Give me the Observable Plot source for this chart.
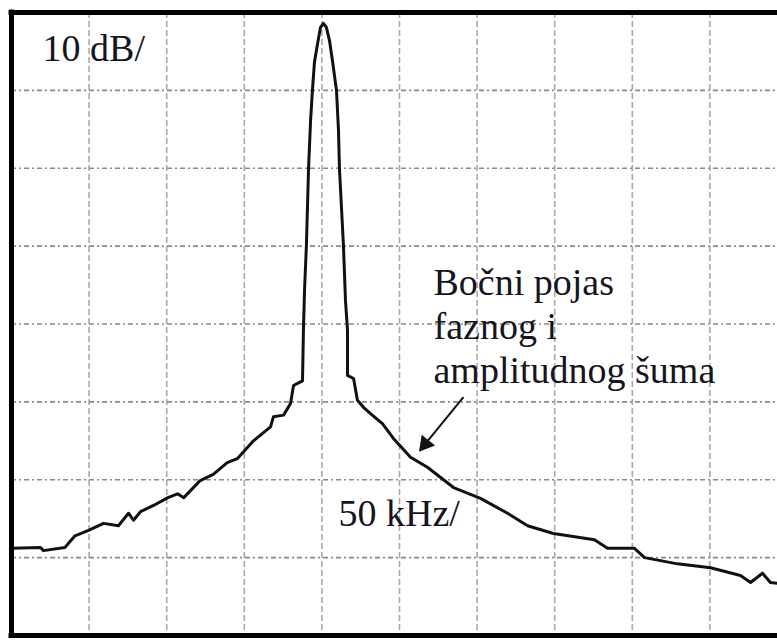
<!DOCTYPE html>
<html><head><meta charset="utf-8">
<script src="https://cdn.jsdelivr.net/npm/d3@7"></script>
<script src="https://cdn.jsdelivr.net/npm/@observablehq/plot@0.6"></script>
<style>html,body{margin:0;padding:0;background:#fff;overflow:hidden}</style>
</head><body><div id="chart"></div>
<script>
// Frequency offset from the carrier (kHz) and level (dB re top of screen)
const freqKHz = [-200, -181.3, -179.4, -165.6, -159.1, -150.4, -140.7, -131.1, -124.6, -121.4,
  -116.9, -108.5, -99.2, -93.0, -89.0, -78.4, -70.0, -61.0, -54.5, -44.1,
  -33.1, -31.2, -24.7, -20.2, -18.3, -12.5, -11.9, -11.2, -10.0, -8.6,
  -7.3, -6.1, -4.8, -2.8, -0.9, 1.0, 2.9, 4.9, 6.8, 9.4,
  10.7, 11.3, 13.9, 15.2, 16.5, 16.5, 20.4, 22.9, 26.8, 31.3,
  39.0, 46.1, 57.1, 68.0, 84.8, 102.2, 119.6, 132.5, 149.2, 175.6,
  184.0, 201.4, 207.9, 229.1, 250.4, 269.7, 276.2, 283.9, 289.0, 293.5];
const levelDb = [-68.8, -68.7, -69.1, -68.7, -67.2, -66.5, -65.6, -65.9, -64.3, -65.2,
  -64.1, -63.3, -62.3, -61.8, -62.3, -60.1, -59.3, -57.8, -57.3, -55.0,
  -53.2, -51.9, -51.7, -50.2, -47.9, -47.3, -40.8, -35.7, -30.0, -20.0,
  -13.9, -10.0, -6.4, -4.0, -1.9, -1.4, -1.9, -3.6, -6.2, -10.0,
  -15.2, -20.0, -30.0, -37.0, -40.8, -46.6, -47.0, -49.8, -50.7, -51.5,
  -52.8, -54.7, -57.1, -58.4, -61.0, -62.4, -64.3, -65.9, -66.9, -67.7,
  -68.8, -68.8, -70.0, -70.8, -71.3, -72.3, -73.2, -72.0, -73.2, -73.3];

// Graticule (10 dB/div, 50 kHz/div)
const gridFreq = [-150, -100, -50, 0, 50, 100, 150, 200, 250];
const gridLevel = [-70, -60, -50, -40, -30, -20, -10];
const borderFreq = [-200];
const borderLevel = [0, -80];

// Annotations
const labelText = ["10 dB/", "Bočni pojas\nfaznog i\namplitudnog šuma", "50 kHz/"];
const labelFreq = [-180, 71.9, 10.7];
const labelLevel = [-6.2, -47.6, -65.9];
const arrowFrom = [91.2, -49.4];
const arrowHead = [66.6, -55.4];

const trace = freqKHz.map((f, i) => ({f, db: levelDb[i]}));
const labels = labelText.map((t, i) => ({t, f: labelFreq[i], db: labelLevel[i]}));

const plot = Plot.plot({
  width: 777,
  height: 640,
  marginLeft: 11,
  marginRight: -10,
  marginTop: 12,
  marginBottom: 5,
  style: {fontFamily: "Liberation Serif", background: "white"},
  x: {domain: [-200, 300], axis: null},
  y: {domain: [-80, 0], axis: null},
  marks: [
    Plot.ruleX(gridFreq, {stroke: "#a8a8a8", strokeWidth: 1.6, strokeDasharray: "6,3"}),
    Plot.ruleY(gridLevel, {stroke: "#8a8a8a", strokeWidth: 1.6, strokeDasharray: "5,3,2,3"}),
    Plot.line(trace, {x: "f", y: "db", stroke: "#111", strokeWidth: 3, strokeLinejoin: "round"}),
    Plot.text(labels, {x: "f", y: "db", text: "t", textAnchor: "start", lineAnchor: "bottom",
      fontSize: 38, lineHeight: 1.16, fill: "#15151f"}),
    Plot.link([{x1: arrowFrom[0], y1: arrowFrom[1], x2: arrowHead[0], y2: arrowHead[1]}],
      {x1: "x1", y1: "y1", x2: "x2", y2: "y2", stroke: "#111", strokeWidth: 2}),
    Plot.dot([{x: arrowHead[0], y: arrowHead[1]}], {x: "x", y: "y", symbol: "triangle",
      r: 6.4, rotate: 219, fill: "#111", stroke: "none"}),
    Plot.ruleX(borderFreq, {stroke: "black", strokeWidth: 5, insetTop: -2.5, insetBottom: -2.5}),
    Plot.ruleY(borderLevel, {stroke: "black", strokeWidth: 5, insetLeft: -2.5})
  ]
});
document.getElementById("chart").appendChild(plot);
</script>
</body></html>
